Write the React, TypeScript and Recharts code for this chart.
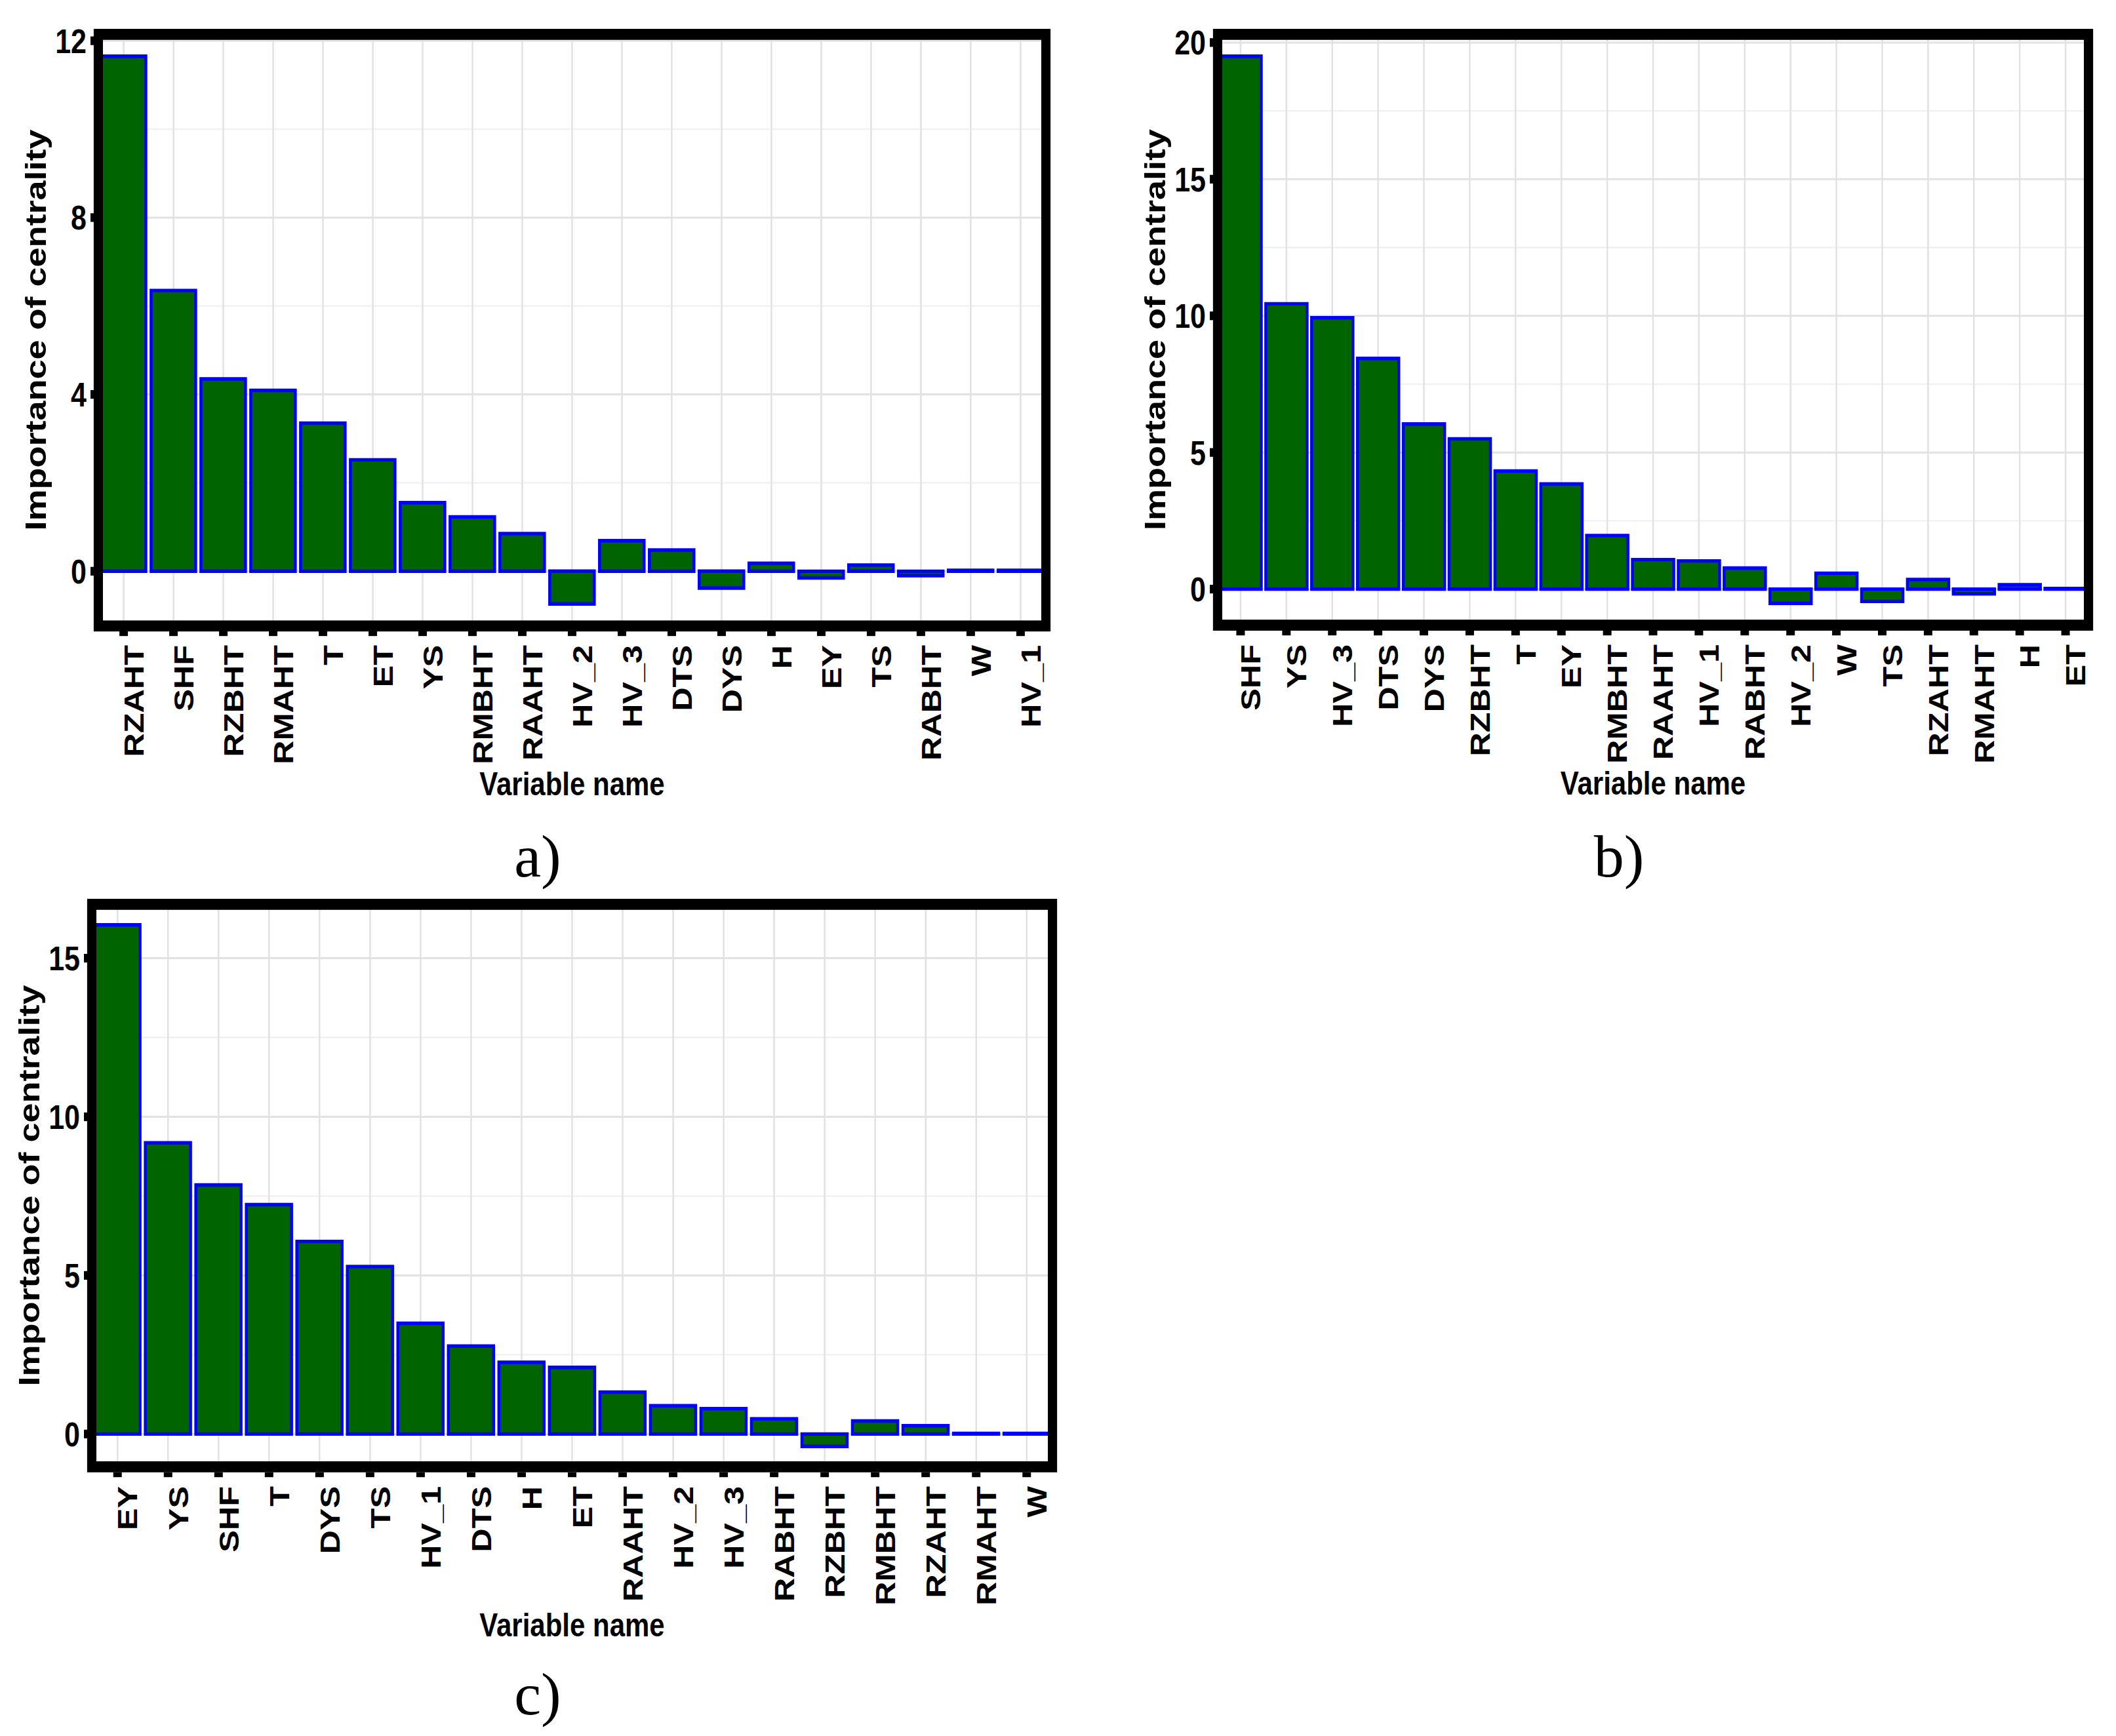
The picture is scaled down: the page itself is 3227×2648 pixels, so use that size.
import React from 'react';
import { BarChart, Bar, XAxis, YAxis, CartesianGrid } from 'recharts';

// ---------- data ----------
const catsA = ['RZAHT', 'SHF', 'RZBHT', 'RMAHT', 'T', 'ET', 'YS', 'RMBHT', 'RAAHT', 'HV_2', 'HV_3', 'DTS', 'DYS', 'H', 'EY', 'TS', 'RABHT', 'W', 'HV_1'];
const valsA = [11.65, 6.35, 4.35, 4.09, 3.35, 2.52, 1.55, 1.23, 0.85, -0.74, 0.69, 0.48, -0.38, 0.18, -0.15, 0.14, -0.1, 0.02, 0.02];
const ticksA = [0, 4, 8, 12];
const minorA = [2, 6, 10];

const catsB = ['SHF', 'YS', 'HV_3', 'DTS', 'DYS', 'RZBHT', 'T', 'EY', 'RMBHT', 'RAAHT', 'HV_1', 'RABHT', 'HV_2', 'W', 'TS', 'RZAHT', 'RMAHT', 'H', 'ET'];
const valsB = [19.5, 10.44, 9.93, 8.44, 6.04, 5.5, 4.32, 3.85, 1.96, 1.08, 1.03, 0.77, -0.52, 0.58, -0.45, 0.35, -0.17, 0.16, 0.02];
const ticksB = [0, 5, 10, 15, 20];
const minorB = [2.5, 7.5, 12.5, 17.5];

const catsC = ['EY', 'YS', 'SHF', 'T', 'DYS', 'TS', 'HV_1', 'DTS', 'H', 'ET', 'RAAHT', 'HV_2', 'HV_3', 'RABHT', 'RZBHT', 'RMBHT', 'RZAHT', 'RMAHT', 'W'];
const valsC = [16.05, 9.18, 7.85, 7.23, 6.07, 5.28, 3.49, 2.77, 2.26, 2.1, 1.32, 0.89, 0.8, 0.48, -0.39, 0.41, 0.26, 0.02, 0.02];
const ticksC = [0, 5, 10, 15];
const minorC = [2.5, 7.5, 12.5];

const xTitle = 'Variable name';
const yTitle = 'Importance of centrality';
const captions = ['a)', 'b)', 'c)'];

// ---------- style ----------
const K = 1.2; // vertical stretch of the original figure
const M = 20;
const YW = 160;
const XH = 240;
const FONT = '"Liberation Sans", Arial, Helvetica, sans-serif';
const SERIF = '"Liberation Serif", "Times New Roman", Times, serif';

const XTick = (props: any) => {
  const { x, y, payload } = props;
  return (
    <g transform={`translate(${x},${y})`}>
      <text x={0} y={0} dy="0.72em" transform="rotate(-90)" textAnchor="end" fontFamily={FONT} fontSize={42} fontWeight="bold" fill="#000">
        {payload.value}
      </text>
    </g>
  );
};

const YTick = (props: any) => {
  const { x, y, payload } = props;
  return (
    <text x={x} y={y} dy="0.36em" textAnchor="end" fontFamily={FONT} fontSize={43} fontWeight="bold" fill="#000">
      {payload.value}
    </text>
  );
};

type PanelProps = {
  cats: string[];
  vals: number[];
  ticks: number[];
  minors: number[];
  PL: number;
  PR: number;
  PT: number;
  PB: number;
};

function Panel({ cats, vals, ticks, minors, PL, PR, PT, PB }: PanelProps) {
  const data = cats.map((c, i) => ({ name: c, value: vals[i] }));
  const lo = Math.min(0, ...vals);
  const hi = Math.max(0, ...vals);
  const r = hi - lo;
  const domain = [lo - 0.05 * r, hi + 0.05 * r];
  const plotW = PR - PL;
  const plotH = (PB - PT) / K;
  const W = plotW + YW + 30;
  const H = M + plotH + XH;
  const pad = plotW / 192;
  const left = PL - YW;
  const top = PT - K * M;

  const renderXTitle = () => (
    <text x={YW + plotW / 2} y={M + plotH + 208} textAnchor="middle" fontFamily={FONT} fontSize={42} fontWeight="bold" fill="#000">
      {xTitle}
    </text>
  );
  const cy = M + plotH / 2;
  const renderYTitle = () => (
    <text x={87} y={cy} transform={`rotate(-90, 87, ${cy})`} textAnchor="middle" fontFamily={FONT} fontSize={45} fontWeight="bold" fill="#000">
      {yTitle}
    </text>
  );

  return (
    <div style={{ position: 'absolute', left, top, width: W, height: H, transform: `scaleY(${K})`, transformOrigin: '0 0' }}>
      <BarChart width={W} height={H} data={data} margin={{ top: M, right: 30, bottom: 0, left: 0 }} barCategoryGap="5%">
        <CartesianGrid vertical={false} horizontalValues={minors} stroke="#F1F1F1" strokeWidth={2} />
        <CartesianGrid horizontalValues={ticks} stroke="#E2E2E2" strokeWidth={2.5} />
        <XAxis
          dataKey="name"
          type="category"
          interval={0}
          padding={{ left: pad, right: pad }}
          height={XH}
          axisLine={false}
          tickSize={6}
          tickMargin={11.5}
          tickLine={{ stroke: '#000', strokeWidth: 13 }}
          tick={<XTick />}
          label={renderXTitle}
        />
        <YAxis
          type="number"
          domain={domain}
          ticks={ticks}
          width={YW}
          axisLine={false}
          tickSize={5}
          tickMargin={6}
          tickLine={{ stroke: '#000', strokeWidth: 11 }}
          tick={<YTick />}
          label={renderYTitle}
          allowDataOverflow
        />
        <Bar dataKey="value" fill="#006400" stroke="#0000FF" strokeWidth={4.5} isAnimationActive={false} />
      </BarChart>
      <div
        style={{
          position: 'absolute',
          left: YW,
          top: M,
          width: plotW,
          height: plotH,
          border: '14px solid #000',
          boxSizing: 'border-box',
          pointerEvents: 'none',
        }}
      />
    </div>
  );
}

export default function App() {
  return (
    <div style={{ position: 'absolute', left: 0, top: 0, width: 3227, height: 2648, background: '#fff', overflow: 'hidden' }}>
      <Panel cats={catsA} vals={valsA} ticks={ticksA} minors={minorA} PL={143} PR={1602} PT={44} PB={963} />
      <Panel cats={catsB} vals={valsB} ticks={ticksB} minors={minorB} PL={1850} PR={3192} PT={44} PB={962} />
      <Panel cats={catsC} vals={valsC} ticks={ticksC} minors={minorC} PL={133} PR={1612} PT={1371} PB={2246} />
      <svg width={3227} height={2648} style={{ position: 'absolute', left: 0, top: 0, pointerEvents: 'none' }}>
        <text x={820} y={1337} textAnchor="middle" fontFamily={SERIF} fontSize={92} fill="#000">{captions[0]}</text>
        <text x={2469} y={1337} textAnchor="middle" fontFamily={SERIF} fontSize={92} fill="#000">{captions[1]}</text>
        <text x={820} y={2615} textAnchor="middle" fontFamily={SERIF} fontSize={92} fill="#000">{captions[2]}</text>
      </svg>
    </div>
  );
}
